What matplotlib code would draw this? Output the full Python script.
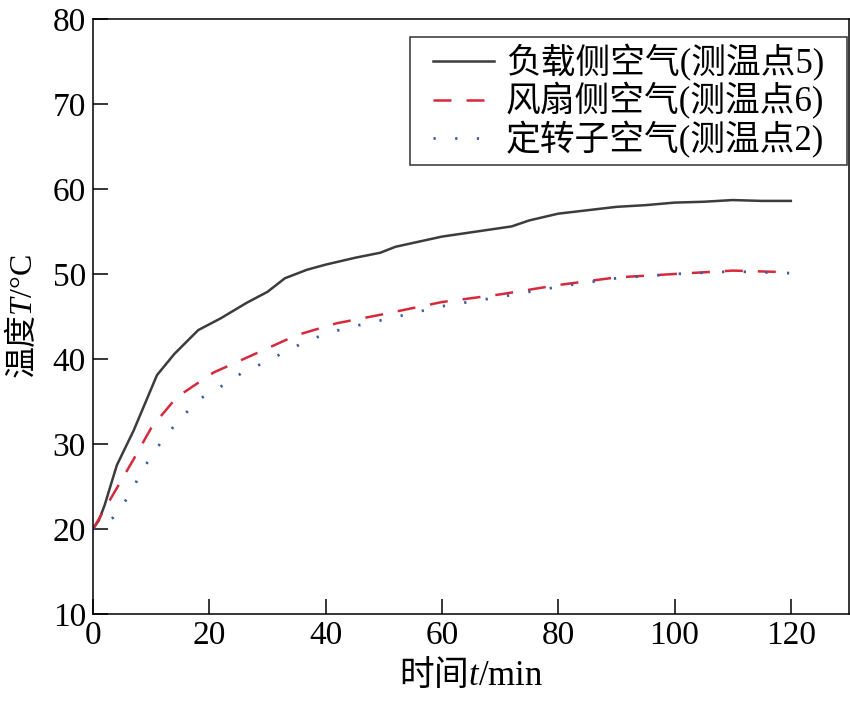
import matplotlib
matplotlib.use("Agg")
import matplotlib.pyplot as plt
from matplotlib.path import Path

plt.rcParams['font.family'] = ['Liberation Serif', 'Noto Sans CJK SC', 'DejaVu Sans']
plt.rcParams['mathtext.fontset'] = 'custom'
plt.rcParams['mathtext.it'] = 'Liberation Serif:italic'
plt.rcParams['mathtext.rm'] = 'Noto Sans CJK SC'
plt.rcParams['mathtext.sf'] = 'Liberation Serif'

# Data
t_load = [0, 1, 2, 4.1, 7, 11, 14, 18.1, 22, 26.4, 30, 33, 36.8, 40, 45, 49.4, 52, 60, 65, 70, 72, 75, 80, 85, 90, 95, 100, 105, 110, 115, 120]
T_load = [20, 21, 22.8, 27.5, 31.6, 38.1, 40.6, 43.4, 44.8, 46.6, 47.9, 49.5, 50.5, 51.1, 51.9, 52.5, 53.2, 54.4, 54.9, 55.4, 55.6, 56.3, 57.1, 57.5, 57.9, 58.1, 58.4, 58.5, 58.7, 58.6, 58.6]

t_fan = [0, 2.9, 6.9, 10.1, 14.4, 20.7, 28.2, 35, 41.9, 49.4, 60, 70, 80, 90, 100, 110, 120]
T_fan = [20, 23.4, 28.1, 32.0, 35.5, 38.4, 40.7, 42.8, 44.2, 45.2, 46.7, 47.6, 48.7, 49.6, 50.0, 50.4, 50.2]

t_rot = [0, 1.5, 3.4, 6.1, 8.1, 10.1, 12.7, 15.3, 18.6, 22.1, 25.7, 29.2, 32.9, 37, 41.2, 45.2, 49.2, 60, 70, 80, 90, 100, 110, 120]
T_rot = [20, 20.4, 21.3, 23.8, 26.4, 28.7, 31.1, 33.2, 35.4, 36.8, 38.4, 39.5, 40.8, 42.2, 43.2, 43.9, 44.5, 46.2, 47.3, 48.5, 49.5, 50.0, 50.3, 50.1]

labels = ['负载侧空气(测温点5)', '风扇侧空气(测温点6)', '定转子空气(测温点2)']
xticks = [0, 20, 40, 60, 80, 100, 120]
yticks = [10, 20, 30, 40, 50, 60, 70, 80]

fig = plt.figure(figsize=(8.5, 7.02), dpi=100)
ax = fig.add_axes([0.1094, 0.1254, 0.8894, 0.8475])

ax.plot(t_load, T_load, color='#3c3c3c', lw=1.8, label=labels[0])
ax.plot(t_fan, T_fan, color='#d8283c', lw=1.8, linestyle=(0, (7.2, 6.0)), label=labels[1])
ax.plot(t_rot, T_rot, color='#3a5aa5', lw=2.0, linestyle=(0, (0.8, 7.0)), label=labels[2])

ax.set_xlim(0, 130)
ax.set_ylim(10, 80)
ax.set_xticks(xticks)
ax.set_yticks(yticks)
ax.tick_params(direction='in', length=11, width=1.1, labelsize=24, top=False, right=False, pad=5)
for s in ax.spines.values():
    s.set_linewidth(1.1)

ax.set_xlabel('$\\mathrm{时间}\\mathit{t}\\mathsf{/min}$', fontsize=25, labelpad=4)
ax.set_ylabel('$\\mathrm{温度}\\mathit{T}\\mathsf{/°C}$', fontsize=23, labelpad=10)


def wide_box(x0, y0, width, height, mutation_size):
    p = 0.45 * mutation_size
    return Path([(x0 - p, y0), (x0 + width + p, y0), (x0 + width + p, y0 + height),
                 (x0 - p, y0 + height), (x0 - p, y0)], closed=True)


leg = ax.legend(loc='upper right', bbox_to_anchor=(0.9765, 0.9697), fontsize=25, frameon=True,
                fancybox=False, edgecolor='black', handlelength=1.75, handletextpad=0.35,
                borderpad=0.2, labelspacing=0.04, borderaxespad=0.0)
leg.get_frame().set_linewidth(1.1)
leg.get_frame().set_boxstyle(wide_box)

fig.savefig('out.png', dpi=100)
